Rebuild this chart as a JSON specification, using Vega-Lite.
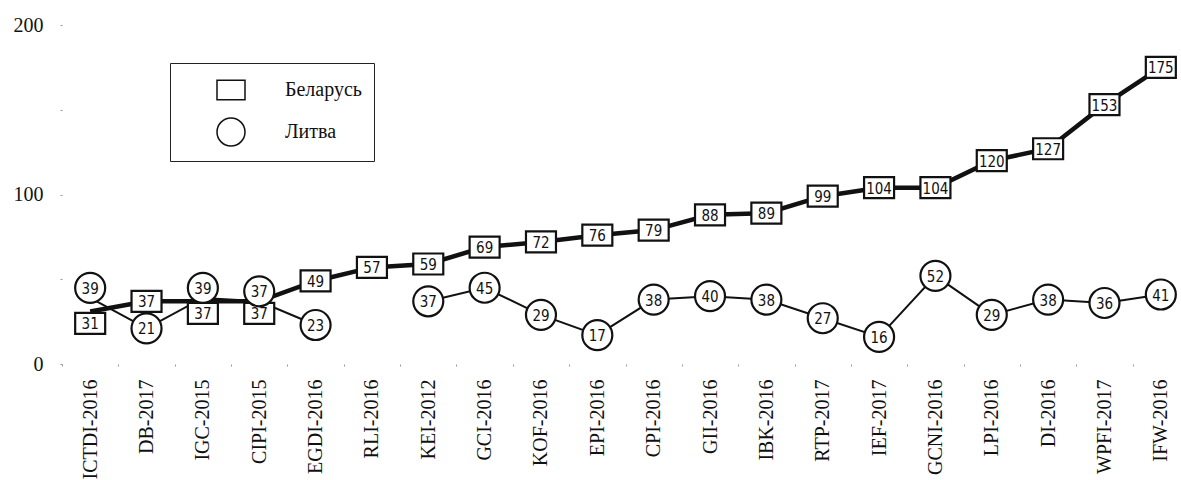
{
  "$schema": "https://vega.github.io/schema/vega-lite/v6.json",
  "width": 1127,
  "height": 339,
  "autosize": {"type": "none"},
  "padding": {"left": 62, "top": 25, "right": 0, "bottom": 116},
  "background": "white",
  "config": {"view": {"stroke": null}, "font": "Liberation Serif"},
  "data": {"values": [
    {"index": "ICTDI-2016", "country": "Беларусь", "value": 31},
    {"index": "DB-2017", "country": "Беларусь", "value": 37},
    {"index": "IGC-2015", "country": "Беларусь", "value": 37},
    {"index": "CIPI-2015", "country": "Беларусь", "value": 37},
    {"index": "EGDI-2016", "country": "Беларусь", "value": 49},
    {"index": "RLI-2016", "country": "Беларусь", "value": 57},
    {"index": "KEI-2012", "country": "Беларусь", "value": 59},
    {"index": "GCI-2016", "country": "Беларусь", "value": 69},
    {"index": "KOF-2016", "country": "Беларусь", "value": 72},
    {"index": "EPI-2016", "country": "Беларусь", "value": 76},
    {"index": "CPI-2016", "country": "Беларусь", "value": 79},
    {"index": "GII-2016", "country": "Беларусь", "value": 88},
    {"index": "IBK-2016", "country": "Беларусь", "value": 89},
    {"index": "RTP-2017", "country": "Беларусь", "value": 99},
    {"index": "IEF-2017", "country": "Беларусь", "value": 104},
    {"index": "GCNI-2016", "country": "Беларусь", "value": 104},
    {"index": "LPI-2016", "country": "Беларусь", "value": 120},
    {"index": "DI-2016", "country": "Беларусь", "value": 127},
    {"index": "WPFI-2017", "country": "Беларусь", "value": 153},
    {"index": "IFW-2016", "country": "Беларусь", "value": 175},
    {"index": "ICTDI-2016", "country": "Литва", "value": 39},
    {"index": "DB-2017", "country": "Литва", "value": 21},
    {"index": "IGC-2015", "country": "Литва", "value": 39},
    {"index": "CIPI-2015", "country": "Литва", "value": 37},
    {"index": "EGDI-2016", "country": "Литва", "value": 23},
    {"index": "RLI-2016", "country": "Литва", "value": null},
    {"index": "KEI-2012", "country": "Литва", "value": 37},
    {"index": "GCI-2016", "country": "Литва", "value": 45},
    {"index": "KOF-2016", "country": "Литва", "value": 29},
    {"index": "EPI-2016", "country": "Литва", "value": 17},
    {"index": "CPI-2016", "country": "Литва", "value": 38},
    {"index": "GII-2016", "country": "Литва", "value": 40},
    {"index": "IBK-2016", "country": "Литва", "value": 38},
    {"index": "RTP-2017", "country": "Литва", "value": 27},
    {"index": "IEF-2017", "country": "Литва", "value": 16},
    {"index": "GCNI-2016", "country": "Литва", "value": 52},
    {"index": "LPI-2016", "country": "Литва", "value": 29},
    {"index": "DI-2016", "country": "Литва", "value": 38},
    {"index": "WPFI-2017", "country": "Литва", "value": 36},
    {"index": "IFW-2016", "country": "Литва", "value": 41}
  ]},
  "transform": [
    {"joinaggregate": [
      {"op": "max", "field": "value", "as": "vmax"},
      {"op": "min", "field": "value", "as": "vmin"},
      {"op": "valid", "field": "value", "as": "nv"}
    ], "groupby": ["index"]}
  ],
  "encoding": {
    "x": {
      "field": "index", "type": "nominal", "bandPosition": 0.5,
      "sort": ["ICTDI-2016","DB-2017","IGC-2015","CIPI-2015","EGDI-2016","RLI-2016","KEI-2012","GCI-2016","KOF-2016","EPI-2016","CPI-2016","GII-2016","IBK-2016","RTP-2017","IEF-2017","GCNI-2016","LPI-2016","DI-2016","WPFI-2017","IFW-2016"],
      "scale": {"type": "band", "paddingInner": 0, "paddingOuter": 0},
      "axis": {
        "title": null, "labelAngle": -90, "labelAlign": "right", "labelBaseline": "middle",
        "labelFont": "Liberation Serif", "labelFontSize": 20, "labelColor": "#111",
        "labelPadding": 13, "tickBand": "extent", "tickSize": 2, "tickColor": "#999",
        "domain": false, "grid": false, "labelOverlap": false
      }
    },
    "y": {
      "field": "value", "type": "quantitative",
      "scale": {"domain": [0, 200], "nice": false},
      "axis": {
        "title": null, "values": [0, 50, 100, 150, 200],
        "labelExpr": "datum.value % 100 === 0 ? datum.label : ''",
        "labelFont": "Liberation Serif", "labelFontSize": 20, "labelColor": "#111",
        "labelPadding": 17, "tickSize": 2, "tickColor": "#999",
        "domain": false, "grid": false
      }
    }
  },
  "layer": [
    {
      "transform": [{"filter": "datum.country === 'Беларусь'"}],
      "mark": {"type": "line", "color": "#111", "strokeWidth": 4.5},
      "encoding": {}
    },
    {
      "transform": [{"filter": "datum.country === 'Литва'"}],
      "mark": {"type": "line", "color": "#111", "strokeWidth": 2, "invalid": "break-paths-show-domains"},
      "encoding": {}
    },
    {
      "mark": {
        "type": "point", "filled": true, "fill": "white", "stroke": "#111", "strokeWidth": 2.2, "size": 900, "opacity": 1,
        "yOffset": {"expr": "(datum.nv === 2 && (datum.vmax - datum.vmin) < 10) ? (datum.country === 'Литва' ? -10 : 12) : 0"}
      },
      "encoding": {
        "shape": {
          "field": "country", "type": "nominal",
          "scale": {"domain": ["Беларусь", "Литва"], "range": ["M-1,-0.7L1,-0.7L1,0.7L-1,0.7Z", "circle"]},
          "legend": {
            "title": null, "orient": "none", "legendX": 108, "legendY": 38, "direction": "vertical",
            "padding": 12, "strokeColor": "#222", "fillColor": "white",
            "symbolSize": 784, "symbolOffset": 34, "labelOffset": 39, "rowPadding": 12,
            "labelFont": "Liberation Serif", "labelFontSize": 20, "labelColor": "#111"
          }
        }
      }
    },
    {
      "mark": {
        "type": "text", "font": "DejaVu Sans Condensed, Liberation Sans Narrow, Liberation Sans", "fontSize": 15, "color": "#111", "baseline": "middle", "dy": 1,
        "yOffset": {"expr": "(datum.nv === 2 && (datum.vmax - datum.vmin) < 10) ? (datum.country === 'Литва' ? -10 : 12) : 0"}
      },
      "encoding": {
        "text": {"field": "value", "type": "quantitative"}
      }
    }
  ]
}
